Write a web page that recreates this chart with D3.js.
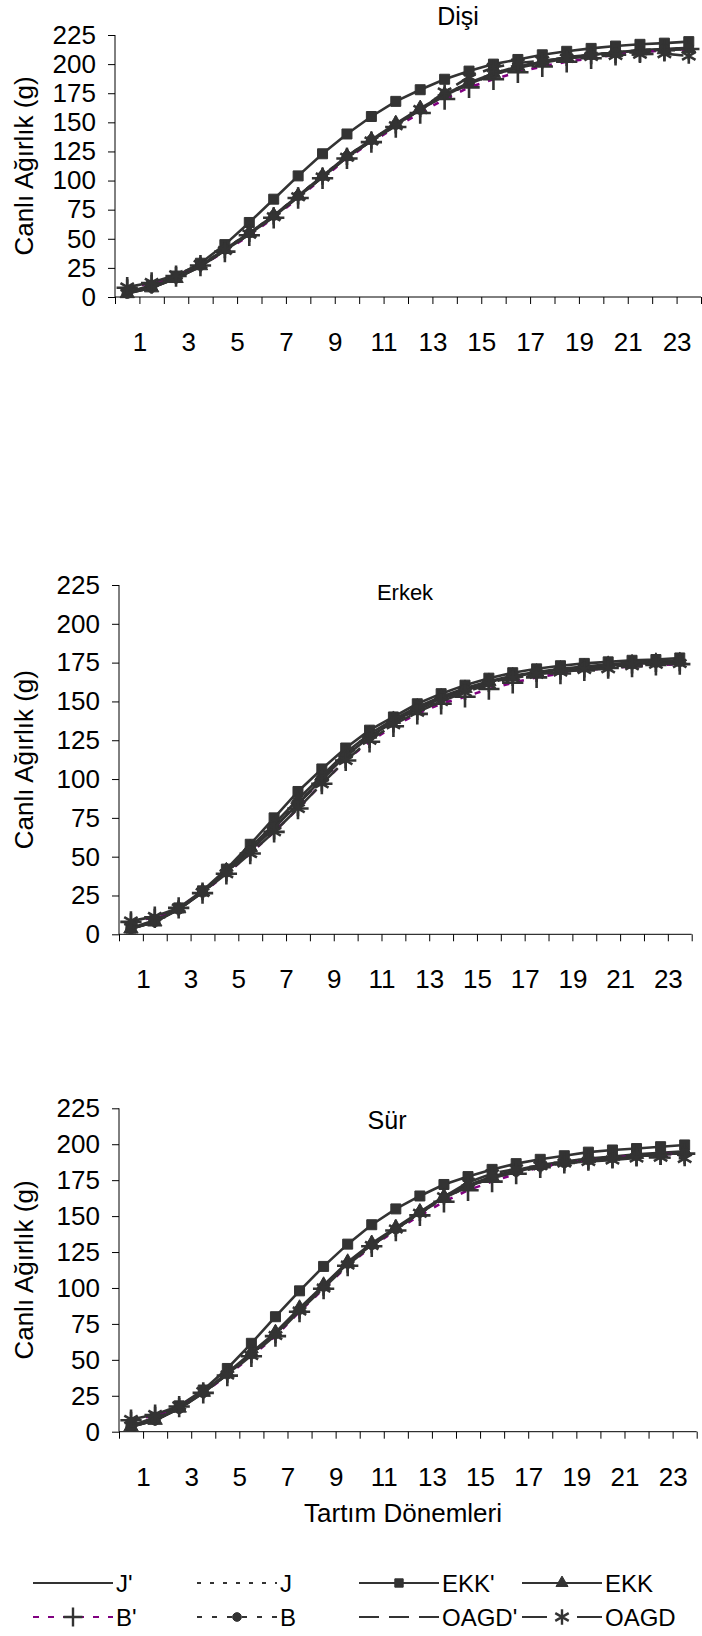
<!DOCTYPE html>
<html>
<head>
  <meta charset="utf-8">
  <title>Canlı Ağırlık - Tartım Dönemleri</title>
  <style>
    body {
      margin: 0;
      padding: 0;
      background: white;
    }
    svg text {
      font-family: "Liberation Sans", Arial, sans-serif;
      fill: #000;
    }
    .axis path, .axis line {
      stroke: #000;
      stroke-width: 1;
    }
  </style>
</head>
<body>
  <div id="chart"></div>

  <script src="https://d3js.org/d3.v7.min.js"></script>
  <script>

  // categories (weighing periods) and tick labels
  var periods = [1, 2, 3, 4, 5, 6, 7, 8, 9, 10, 11, 12, 13, 14, 15, 16, 17, 18, 19, 20, 21, 22, 23, 24]
  var xTickLabels = [1, 3, 5, 7, 9, 11, 13, 15, 17, 19, 21, 23]
  var yTickValues = [0, 25, 50, 75, 100, 125, 150, 175, 200, 225]
  var seriesNames = ["J'", "J", "EKK'", "EKK", "B'", "B", "OAGD'", "OAGD"]

  // Dişi
  var disiJp    = [3, 8, 16, 26, 40, 54, 69, 86, 103, 120, 134, 148, 161, 173, 183, 191, 197, 202, 205, 208, 210, 212, 213, 214]
  var disiJ     = [3.5, 8.5, 16.5, 26.5, 40.5, 54.5, 69.5, 86.5, 103.5, 120.5, 134.5, 148, 161, 173, 183, 191, 197, 201, 205, 208, 210, 211.5, 212.5, 213.5]
  var disiEKKp  = [4, 10, 18, 29, 45, 64, 84, 104, 123, 140, 155, 168, 178, 187, 194, 200, 204, 208, 211, 213.5, 215.5, 217, 218, 219.3]
  var disiEKK   = [3, 8, 16, 27, 41, 55, 70, 87, 104, 121, 135, 149, 162, 174, 184, 192, 198, 202, 206, 208, 210, 211.5, 212.5, 213.5]
  var disiBp    = [8, 12, 18, 27, 39, 53, 68, 85, 102, 119, 133, 146, 158, 170, 180, 187, 193, 198, 202, 205, 208, 210, 212, 213]
  var disiB     = [3, 8, 16, 27, 41, 55, 70, 87, 104, 121, 135, 148, 161, 174, 184, 192, 198, 202, 206, 208, 210, 212, 213, 214]
  var disiOAGDp = [3.5, 8, 16, 26, 40, 54, 69, 86, 103, 120, 134, 148, 161, 173, 183, 191, 197, 201, 205, 207.5, 209.5, 211, 212, 213]
  var disiOAGD  = [8.5, 12.5, 19, 28, 40, 54, 69, 86, 103, 120, 134, 147, 161, 176, 189, 197, 201, 203, 205, 206.5, 207.5, 208.5, 209, 207]

  // Erkek
  var erkekJp    = [3.5, 8, 16, 27, 40, 54, 69, 84, 100, 115, 127, 137, 145, 152, 158, 162.5, 166, 168.5, 170.5, 172, 173, 174, 175, 175.5]
  var erkekJ     = [4, 8.5, 16.5, 27.5, 40.5, 54.5, 69.5, 84.5, 100.5, 115.5, 127.5, 137, 145, 152, 157.5, 162, 165.5, 168, 170, 171.5, 173, 174, 174.5, 175]
  var erkekEKKp  = [4, 9, 17, 28, 42, 58, 75, 92, 106.5, 120, 131.5, 140, 148.5, 155, 160.5, 165, 168.5, 171, 173, 174.5, 175.5, 176.5, 177, 178]
  var erkekEKK   = [3.5, 8, 16.5, 27.5, 41, 56, 71, 87, 102, 117, 129, 138.5, 146.5, 153, 158.5, 163, 166.5, 169, 171, 172.5, 174, 175, 176, 176.5]
  var erkekBp    = [8, 11, 17, 26.5, 39, 52, 66, 81, 97, 112, 124, 134, 142, 148.5, 153, 158, 162, 165.5, 168, 170, 171.5, 172.5, 173.5, 174]
  var erkekB     = [3.5, 8, 16, 27, 40, 54, 69, 84, 100, 115, 127, 137, 145, 152, 158, 162.5, 166, 168.5, 170.5, 172, 173, 174, 175, 175.5]
  var erkekOAGDp = [3.5, 8, 16, 27, 40, 54, 68.5, 84, 99.5, 114.5, 126.5, 136.5, 144.5, 151.5, 157, 162, 165.5, 168, 170, 171.5, 172.5, 173.5, 174.5, 175]
  var erkekOAGD  = [8.5, 11.5, 17, 27, 39, 52, 66, 81, 97, 112, 125, 135, 143, 150, 156, 161, 165, 167.5, 169, 170.5, 171, 173, 174, 174.5]

  // Sür
  var surJp    = [3.5, 8, 16, 27, 40, 54, 68, 85, 101, 117, 130, 141, 152.5, 163, 171, 177, 181, 184.5, 187, 189, 190.5, 192, 193, 194]
  var surJ     = [4, 8.5, 16.5, 27.5, 40.5, 54.5, 68.5, 85.5, 101.5, 117.5, 130.5, 141.5, 152.5, 162.5, 170.5, 176.5, 181, 184.5, 187, 189, 190.5, 192, 193, 194]
  var surEKKp  = [4, 10, 18, 29, 44, 61.5, 80, 98, 115, 130.5, 144, 155, 164, 172, 177.5, 182.5, 186.5, 189.5, 192, 194.5, 196, 197, 198.3, 199.5]
  var surEKK   = [3.5, 8, 16.5, 27.5, 41, 55, 69, 86, 102, 118, 131, 142, 153, 163.5, 171.5, 177.5, 182, 185.5, 188, 190, 191.5, 193, 194, 195]
  var surBp    = [8, 11.5, 17.5, 27, 39, 52.5, 66.5, 83.5, 99.5, 115.5, 129, 140, 150.5, 160, 168, 174, 179.5, 184, 187, 189, 190.5, 192, 193, 193.5]
  var surB     = [3.5, 8, 16, 27, 40, 54, 68, 85, 101, 117, 130, 141, 152.5, 163, 171, 177, 181, 184.5, 187, 189, 190.5, 192, 193, 194]
  var surOAGDp = [3.5, 8, 16, 27, 40, 54, 68, 85, 101, 117, 130, 141, 152, 162.5, 170.5, 176.5, 180.5, 184, 186.5, 188.5, 190, 191.5, 192.5, 193]
  var surOAGD  = [8.5, 12, 18, 28, 39.5, 53, 67, 84, 100, 116, 129.5, 141, 152, 163.5, 173.5, 179.5, 183, 185, 187, 188, 189, 190.5, 191, 190]

  var width = 702,
      height = 1636

  var dark = "#333"
  var purple = "#800080"

  // line + marker style of each series (same order as seriesNames)
  var styles = [
    {color: dark, dash: null, symbol: null},
    {color: dark, dash: "4,9", symbol: null},
    {color: dark, dash: null, symbol: d3.symbolSquare, size: 100, legendSize: 70, fill: true},
    {color: dark, dash: null, symbol: d3.symbolTriangle, size: 90, legendSize: 63, fill: true},
    {color: purple, dash: "6,9", symbol: d3.symbolPlus || d3.symbolCross, size: 150, legendSize: 120, fill: false},
    {color: dark, dash: "5,10", symbol: d3.symbolCircle, size: 75, legendSize: 60, fill: true},
    {color: dark, dash: "20,10", symbol: null},
    {color: dark, dash: "22,8", legendDash: "25,30,25", symbol: d3.symbolAsterisk || d3.symbolStar, size: 170, legendSize: 170, fill: false}
  ]

  var panels = [
    {title: "Dişi", titleX: 458, titleY: 25, titleSize: 25,
     left: 115, right: 701, top: 35, bottom: 297,
     series: [disiJp, disiJ, disiEKKp, disiEKK, disiBp, disiB, disiOAGDp, disiOAGD]},
    {title: "Erkek", titleX: 405, titleY: 600, titleSize: 22,
     left: 119, right: 691.7, top: 585, bottom: 934.3,
     series: [erkekJp, erkekJ, erkekEKKp, erkekEKK, erkekBp, erkekB, erkekOAGDp, erkekOAGD]},
    {title: "Sür", titleX: 387, titleY: 1129, titleSize: 25,
     left: 119, right: 696.7, top: 1108.3, bottom: 1431.7,
     series: [surJp, surJ, surEKKp, surEKK, surBp, surB, surOAGDp, surOAGD]}
  ]

  var svg = d3.select("#chart")
      .append("svg")
      .attr("width", width)
      .attr("height", height)

  panels.forEach(drawPanel)

  function drawPanel(p) {
    var g = svg.append("g")

    // x: 24 bands, points sit in the middle of each band
    var x = d3.scaleLinear()
        .domain([0, periods.length])
        .range([p.left, p.right])

    var y = d3.scaleLinear()
        .domain([0, 225])
        .range([p.bottom, p.top])

    // y axis
    var yAxis = g.append("g")
        .attr("class", "axis")
        .attr("transform", "translate(" + p.left + ",0)")
        .call(d3.axisLeft(y).tickValues(yTickValues).tickSize(7).tickPadding(12))
    yAxis.select(".domain").attr("d", "M0," + p.top + "V" + p.bottom)
    yAxis.selectAll("text").style("font-size", "26px")

    // x axis: ticks between categories, labels on odd ticks
    var xAxis = g.append("g")
        .attr("class", "axis")
        .attr("transform", "translate(0," + p.bottom + ")")
        .call(d3.axisBottom(x)
          .tickValues(d3.range(0, periods.length + 1))
          .tickSize(7)
          .tickFormat(function (d) {
            return xTickLabels.indexOf(d) >= 0 ? d : ""
          }))
    xAxis.select(".domain").attr("d", "M" + p.left + ",0H" + p.right)
    xAxis.selectAll("text")
        .attr("y", 54)
        .attr("dy", null)
        .style("font-size", "26px")

    // y axis title
    g.append("text")
        .attr("transform", "translate(33," + ((p.top + p.bottom) / 2) + ") rotate(-90)")
        .attr("text-anchor", "middle")
        .style("font-size", "26px")
        .text("Canlı Ağırlık (g)")

    // panel title
    g.append("text")
        .attr("x", p.titleX)
        .attr("y", p.titleY)
        .attr("text-anchor", "middle")
        .style("font-size", p.titleSize + "px")
        .text(p.title)

    var line = d3.line()
        .x(function (d, i) { return x(periods[i] - 0.5) })
        .y(function (d) { return y(d) })

    p.series.forEach(function (values, s) {
      var st = styles[s]
      g.append("path")
          .datum(values)
          .attr("fill", "none")
          .attr("stroke", st.color)
          .attr("stroke-width", 2.6)
          .attr("stroke-dasharray", st.dash)
          .attr("d", line)

      if (st.symbol) {
        g.append("g").selectAll("path")
          .data(values)
          .enter().append("path")
            .attr("transform", function (d, i) {
              return "translate(" + x(periods[i] - 0.5) + "," + y(d) + ")"
            })
            .attr("d", d3.symbol().type(st.symbol).size(st.size))
            .attr("fill", st.fill ? dark : "none")
            .attr("stroke", dark)
            .attr("stroke-width", st.fill ? 1 : 2.6)
      }
    })
  }

  // x axis title (under the last panel)
  svg.append("text")
      .attr("x", 403)
      .attr("y", 1522)
      .attr("text-anchor", "middle")
      .style("font-size", "26px")
      .text("Tartım Dönemleri")

  // legend: two rows, four columns
  var legendX = [33, 197, 359, 522],
      legendY = [1583, 1617],
      legendLen = 80

  var legend = svg.append("g")
      .selectAll("g")
      .data(seriesNames)
      .enter().append("g")
      .attr("transform", function (d, i) {
        return "translate(" + legendX[i % 4] + "," + legendY[Math.floor(i / 4)] + ")"
      })

  legend.append("line")
      .attr("x1", 0)
      .attr("x2", legendLen)
      .attr("stroke", function (d, i) { return styles[i].color })
      .attr("stroke-width", 2.2)
      .attr("stroke-dasharray", function (d, i) { return styles[i].legendDash || styles[i].dash })

  legend.filter(function (d, i) { return styles[i].symbol })
    .append("path")
      .attr("transform", "translate(" + (legendLen / 2) + ",0)")
      .attr("d", function (d) {
        var st = styles[seriesNames.indexOf(d)]
        return d3.symbol().type(st.symbol).size(st.legendSize)()
      })
      .attr("fill", function (d) { return styles[seriesNames.indexOf(d)].fill ? dark : "none" })
      .attr("stroke", dark)
      .attr("stroke-width", function (d) { return styles[seriesNames.indexOf(d)].fill ? 1 : 2.4 })

  legend.append("text")
      .attr("x", legendLen + 3)
      .attr("dy", "0.36em")
      .style("font-size", "24px")
      .text(function (d) { return d })

  </script>
</body>
</html>
